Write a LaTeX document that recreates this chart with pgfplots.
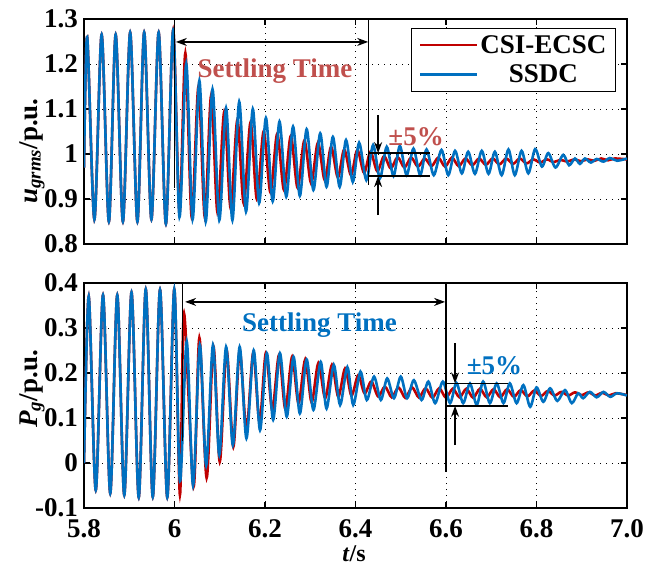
\documentclass[border=0pt]{standalone}
\usepackage{fontspec}
\setmainfont{Liberation Serif}
\usepackage{pgfplots}
\pgfplotsset{compat=1.18}
\usetikzlibrary{arrows.meta}
\definecolor{cred}{RGB}{192,0,0}
\definecolor{cblue}{RGB}{0,112,192}
\definecolor{tred}{RGB}{192,80,77}
\definecolor{tblue}{RGB}{0,112,192}
\newcommand{\bigf}{\fontsize{27}{30}\selectfont\bfseries}
\pgfplotsset{
  myax/.style={
    scale only axis, width=543pt, height=225pt,
    xmin=5.8, xmax=7.0,
    xtick={5.8,6,6.2,6.4,6.6,6.8,7},
    grid=major,
    grid style={black, line width=0.9pt, dash pattern=on 1pt off 5pt},
    axis line style={line width=2pt},
    tick style={black, line width=1.5pt},
    major tick length=6pt, tick align=inside, tick pos=both,
    ticklabel style={font=\bigf, inner sep=1pt},
    yticklabel style={xshift=-5pt},
    xticklabel style={yshift=-10pt},
    /pgf/number format/assume math mode=true,
    no marks,
  },
  redl/.style={cred, line width=2.6pt, smooth, tension=0.5},
  bluel/.style={cblue, line width=2.6pt, smooth, tension=0.5},
}
\tikzset{ann/.style={black, line width=1.3pt},
  arr/.style={-{Stealth[length=11pt,width=8pt]}, black, line width=1.3pt}}
\begin{document}
\begin{tikzpicture}
\useasboundingbox (0pt,0pt) rectangle (656pt,566pt);
% ---------------- top axis ----------------
\begin{axis}[myax, at={(84pt,322pt)}, anchor=south west,
  ymin=0.8, ymax=1.3, ytick={0.8,0.9,1,1.1,1.2,1.3},
  yticklabels={0.8,0.9,1,1.1,1.2,1.3}, xticklabels={},
  legend style={at={(axis description cs:0.9797,0.96)}, anchor=north east,
    draw=black, line width=1pt, font=\bigf, inner xsep=7pt, inner ysep=5pt, row sep=6pt,
    nodes={inner sep=2pt}},
  legend cell align=center,
  legend image code/.code={\draw[#1] (0pt,0pt) -- (57pt,0pt);},
]
\addplot[redl] coordinates {
(5.800,0.97) (5.807,1.26) (5.823,0.855) (5.839,1.265) (5.855,0.85) (5.870,1.265)
(5.886,0.85) (5.902,1.27) (5.918,0.85) (5.933,1.27) (5.949,0.855) (5.965,1.27)
(5.981,0.845) (5.997,1.275)
(6.011,0.87) (6.024,1.224) (6.038,0.86) (6.053,1.15) (6.067,0.86) (6.081,1.13)
(6.095,0.87) (6.110,1.094) (6.124,0.88) (6.139,1.076) (6.153,0.89) (6.168,1.07)
(6.182,0.90) (6.197,1.05) (6.212,0.915) (6.227,1.045) (6.242,0.92) (6.257,1.04)
(6.272,0.925) (6.287,1.03) (6.302,0.935) (6.317,1.025) (6.332,0.942) (6.346,1.016)
(6.361,0.948) (6.375,1.01) (6.390,0.953) (6.404,1.009) (6.419,0.958) (6.433,1.005)
(6.448,0.962) (6.463,0.995) (6.478,0.968) (6.493,0.993) (6.508,0.970) (6.523,0.992)
(6.538,0.972) (6.553,0.990) (6.568,0.973) (6.583,0.992) (6.598,0.972) (6.613,0.992)
(6.628,0.973) (6.643,0.990) (6.658,0.975) (6.673,0.990) (6.688,0.976) (6.703,0.990)
(6.718,0.977) (6.733,0.990) (6.748,0.978) (6.763,0.990) (6.778,0.979) (6.793,0.988)
(6.808,0.981) (6.823,0.988) (6.838,0.982) (6.853,0.987) (6.868,0.983) (6.883,0.988)
(6.898,0.984) (6.913,0.988) (6.928,0.985) (6.943,0.990) (6.958,0.986) (6.973,0.990)
(7.000,0.988)
};
\addlegendentry{CSI-ECSC}
\addplot[bluel] coordinates {
(5.800,0.97) (5.807,1.26) (5.823,0.855) (5.839,1.265) (5.855,0.85) (5.870,1.265)
(5.886,0.85) (5.902,1.27) (5.918,0.85) (5.933,1.27) (5.949,0.855) (5.965,1.27)
(5.981,0.845) (5.997,1.275)
(6.011,0.86) (6.026,1.20) (6.040,0.855) (6.055,1.163) (6.069,0.85) (6.084,1.144)
(6.099,0.853) (6.114,1.102) (6.128,0.853) (6.143,1.116) (6.158,0.872) (6.173,1.10)
(6.187,0.891) (6.202,1.08) (6.217,0.895) (6.232,1.072) (6.247,0.905) (6.262,1.061)
(6.277,0.907) (6.292,1.055) (6.307,0.92) (6.322,1.046) (6.336,0.927) (6.350,1.038)
(6.365,0.927) (6.379,1.031) (6.394,0.938) (6.408,1.025) (6.424,0.942) (6.439,1.020)
(6.454,0.946) (6.469,1.016) (6.484,0.951) (6.498,1.018) (6.513,0.953) (6.528,1.012)
(6.543,0.953) (6.557,1.010) (6.573,0.953) (6.590,1.009) (6.605,0.953) (6.620,1.007)
(6.635,0.957) (6.649,1.005) (6.664,0.956) (6.679,1.007) (6.694,0.956) (6.708,1.005)
(6.723,0.953) (6.738,1.010) (6.752,0.953) (6.767,1.007) (6.782,0.957) (6.797,1.011)
(6.812,0.972) (6.826,1.002) (6.842,0.970) (6.859,0.998) (6.872,0.975) (6.885,0.990)
(6.896,0.978) (6.907,0.990) (6.920,0.981) (6.933,0.989) (6.948,0.983) (6.962,0.991)
(6.978,0.985) (7.000,0.990)
};
\addlegendentry{SSDC}
% annotations
\draw[ann] (axis cs:6.0,1.3) -- (axis cs:6.0,0.925);
\draw[ann] (axis cs:6.429,1.3) -- (axis cs:6.429,0.931);
\draw[{Stealth[length=11pt,width=8pt]}-{Stealth[length=11pt,width=8pt]}, black, line width=1.3pt]
  (axis cs:6.003,1.249) -- (axis cs:6.428,1.249);
\draw[ann] (axis cs:6.43,1.002) -- (axis cs:6.565,1.002);
\draw[ann] (axis cs:6.43,0.951) -- (axis cs:6.565,0.951);
\draw[arr] (axis cs:6.450,1.087) -- (axis cs:6.450,1.002);
\draw[arr] (axis cs:6.450,0.864) -- (axis cs:6.450,0.951);
\node[anchor=base, text=tred, font=\bigf, inner sep=0pt] at (axis cs:6.222,1.17) {Settling Time};
\node[anchor=base, text=tred, font=\bigf, inner sep=0pt] at (axis cs:6.534,1.018) {±5\%};
\end{axis}
% ---------------- bottom axis ----------------
\begin{axis}[myax, at={(84pt,58pt)}, anchor=south west,
  ymin=-0.1, ymax=0.4, ytick={-0.1,0,0.1,0.2,0.3,0.4},
  yticklabels={-0.1,0,0.1,0.2,0.3,0.4},
  xticklabels={5.8,6,6.2,6.4,6.6,6.8,7.0},
]
\addplot[redl] coordinates {
(5.800,0.00) (5.8105,0.370) (5.826,-0.060) (5.842,0.373) (5.858,-0.067) (5.8735,0.373)
(5.889,-0.071) (5.905,0.379) (5.921,-0.076) (5.9365,0.386) (5.952,-0.075) (5.968,0.385)
(5.984,-0.076) (5.9995,0.386)
(6.012,-0.071) (6.021,0.333) (6.042,-0.053) (6.055,0.278) (6.071,-0.033) (6.086,0.259)
(6.100,0.003) (6.115,0.251) (6.130,0.036) (6.144,0.25) (6.159,0.073) (6.174,0.245)
(6.188,0.09) (6.202,0.245) (6.216,0.118) (6.231,0.24) (6.245,0.12) (6.260,0.236)
(6.274,0.133) (6.289,0.23) (6.303,0.135) (6.318,0.222) (6.333,0.144) (6.348,0.218)
(6.362,0.147) (6.377,0.21) (6.391,0.15) (6.406,0.195) (6.420,0.155) (6.435,0.181)
(6.450,0.148) (6.465,0.170) (6.480,0.146) (6.495,0.168) (6.510,0.145) (6.525,0.168)
(6.540,0.146) (6.555,0.166) (6.570,0.145) (6.585,0.166) (6.600,0.145) (6.615,0.165)
(6.630,0.146) (6.645,0.165) (6.660,0.145) (6.675,0.165) (6.690,0.146) (6.705,0.164)
(6.720,0.146) (6.735,0.164) (6.750,0.147) (6.765,0.162) (6.780,0.148) (6.795,0.161)
(6.810,0.149) (6.825,0.160) (6.840,0.150) (6.855,0.158) (6.870,0.150) (6.885,0.157)
(6.900,0.151) (6.915,0.157) (6.930,0.150) (6.945,0.156) (6.960,0.150) (6.975,0.155)
(7.000,0.151)
};
\addplot[bluel] coordinates {
(5.800,0.00) (5.8105,0.370) (5.826,-0.060) (5.842,0.373) (5.858,-0.067) (5.8735,0.373)
(5.889,-0.071) (5.905,0.379) (5.921,-0.076) (5.9365,0.386) (5.952,-0.075) (5.968,0.385)
(5.984,-0.076) (5.9995,0.386)
(6.012,-0.040) (6.027,0.27) (6.041,-0.050) (6.056,0.262) (6.070,-0.005) (6.085,0.262)
(6.099,0.018) (6.114,0.258) (6.129,0.04) (6.144,0.258) (6.159,0.055) (6.175,0.25)
(6.189,0.073) (6.204,0.244) (6.218,0.096) (6.233,0.244) (6.248,0.103) (6.263,0.236)
(6.277,0.110) (6.292,0.230) (6.307,0.118) (6.323,0.225) (6.336,0.121) (6.352,0.218)
(6.366,0.129) (6.382,0.213) (6.395,0.129) (6.411,0.203) (6.425,0.140) (6.441,0.192)
(6.456,0.140) (6.470,0.188) (6.485,0.144) (6.500,0.192) (6.514,0.144) (6.529,0.184)
(6.546,0.140) (6.561,0.181) (6.576,0.133) (6.593,0.181) (6.609,0.133) (6.623,0.178)
(6.638,0.133) (6.653,0.177) (6.668,0.129) (6.682,0.181) (6.697,0.133) (6.712,0.177)
(6.727,0.133) (6.741,0.177) (6.756,0.133) (6.771,0.173) (6.786,0.125) (6.800,0.168)
(6.815,0.136) (6.830,0.166) (6.846,0.138) (6.863,0.162) (6.878,0.133) (6.892,0.155)
(6.903,0.144) (6.918,0.158) (6.933,0.146) (6.948,0.158) (6.963,0.147) (6.978,0.155)
(7.000,0.150)
};
\draw[ann] (axis cs:6.018,0.4) -- (axis cs:6.018,0.05);
\draw[ann] (axis cs:6.6,0.4) -- (axis cs:6.6,-0.019);
\draw[{Stealth[length=11pt,width=8pt]}-{Stealth[length=11pt,width=8pt]}, black, line width=1.3pt]
  (axis cs:6.0235,0.358) -- (axis cs:6.598,0.358);
\draw[ann] (axis cs:6.6,0.177) -- (axis cs:6.738,0.177);
\draw[ann] (axis cs:6.6,0.127) -- (axis cs:6.738,0.127);
\draw[arr] (axis cs:6.620,0.266) -- (axis cs:6.620,0.177);
\draw[arr] (axis cs:6.620,0.040) -- (axis cs:6.620,0.127);
\node[anchor=base, text=tblue, font=\bigf, inner sep=0pt] at (axis cs:6.3204,0.292) {Settling Time};
\node[anchor=base, text=tblue, font=\bigf, inner sep=0pt] at (axis cs:6.707,0.196) {±5\%};
\end{axis}
% outer labels
\node[rotate=90, anchor=base, font=\bigf, inner sep=0pt] at (37pt,415pt)
  {\textit{u}\textsubscript{\textit{grms}}/p.u.};
\node[rotate=90, anchor=base, font=\bigf, inner sep=0pt] at (37pt,177pt)
  {\textit{P}\textsubscript{\textit{g}}/p.u.};
\node[anchor=base, font=\fontsize{24}{26}\selectfont\bfseries, inner sep=0pt] at (354pt,5pt) {\textit{t}/s};
\end{tikzpicture}
\end{document}
